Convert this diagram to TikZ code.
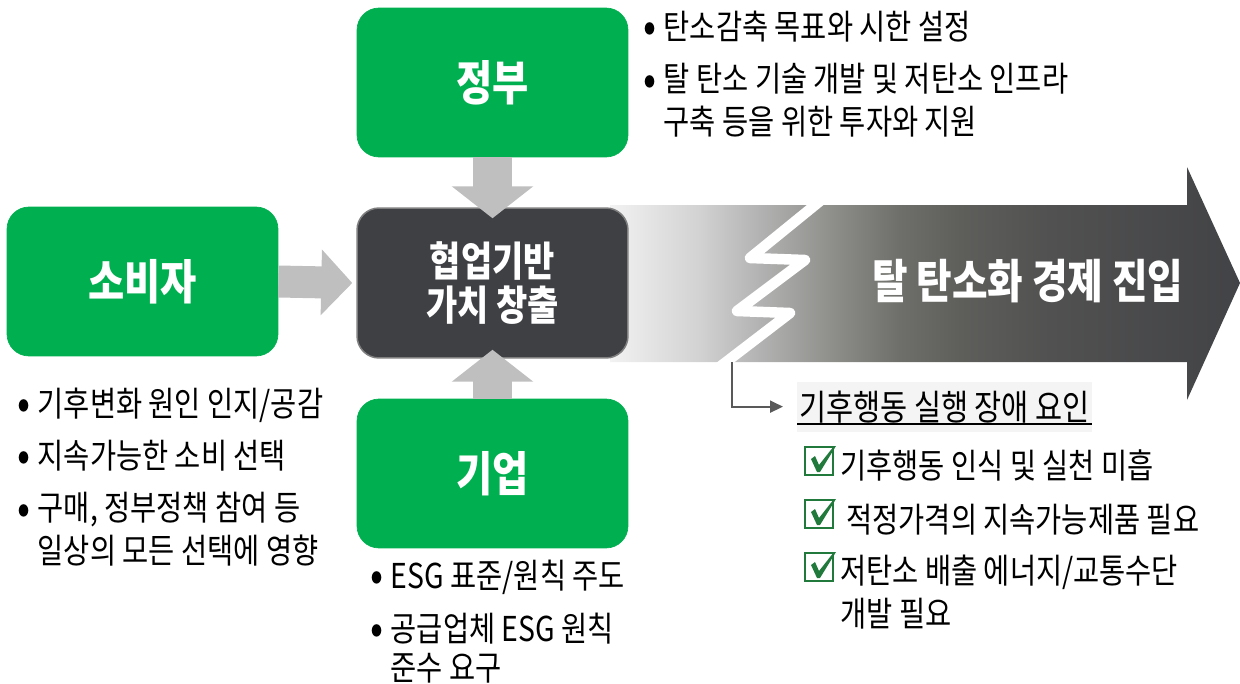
\documentclass[tikz,border=0pt]{standalone}
\usepackage{fontspec}
\setmainfont{Noto Sans CJK KR}[FakeStretch=0.83]
\usetikzlibrary{arrows.meta,calc}
\definecolor{gr}{HTML}{00B050}
\definecolor{dk}{HTML}{3F4044}
\definecolor{dkb}{HTML}{7F7F7F}
\definecolor{ar}{HTML}{BFBFBF}
\definecolor{ck}{HTML}{217A3C}
\definecolor{cn}{HTML}{595959}
\definecolor{hb}{HTML}{F4F4F4}
\definecolor{sa}{HTML}{F2F2F2}
\definecolor{sb}{HTML}{D2D2D2}
\definecolor{sc}{HTML}{B2B2B2}
\definecolor{sd}{HTML}{8A8A86}
\definecolor{se}{HTML}{6E6E6A}
\definecolor{sf}{HTML}{5E5E5B}
\definecolor{sg}{HTML}{515151}
\definecolor{sh}{HTML}{424346}
\pgfdeclarehorizontalshading{bigshade}{100bp}{color(0bp)=(sa); color(25bp)=(sa); color(32.1bp)=(sb); color(36.9bp)=(sc); color(43.3bp)=(sd); color(48bp)=(se); color(52.8bp)=(sf); color(59.9bp)=(sg); color(75bp)=(sh); color(100bp)=(sh)}
\newcommand\bul{\makebox[8.8pt][l]{\hspace{-3pt}\raisebox{-0.1em}{\scalebox{1.35}{•}}}}
\begin{document}
\begin{tikzpicture}[x=0.02cm,y=-0.02cm,
  gbox/.style={rectangle, rounded corners=0.44cm, fill=gr, draw=gr, minimum width=5.42cm, minimum height=2.98cm, text=white, font=\fontsize{27}{30}\selectfont\bfseries},
  cbox/.style={rectangle, rounded corners=0.44cm, fill=dk, draw=dkb, line width=0.03cm, minimum width=5.42cm, minimum height=3cm, text=white, align=center, font=\fontsize{23.3}{24.6}\selectfont\bfseries},
  garrow/.style={ar, line width=#1},
  txt/.style={anchor=base west, inner sep=0pt, align=left, font=\fontsize{19.5}{24}\selectfont},
  chkbox/.pic={
    \draw[ck, line width=0.04cm] (-14,-14) rectangle (14,14);
    \fill[ck] (-8,-2) -- (-4,-5) -- (0,4) -- (15,-15) -- (17,-15) -- (1,11) -- (-2,11) -- cycle;
  }]
\useasboundingbox (0,0) rectangle (1240,683);
% big gradient arrow
\shade[shading=bigshade] (610,205) -- (1187,205) -- (1187,167) -- (1240,283) -- (1187,400) -- (1187,362) -- (610,362) -- cycle;
\begin{scope}
  \clip (600,205) rectangle (1190,362);
  \draw[white, line width=0.21cm, line join=round] (825,197) -- (750,258) -- (805,260) -- (737,311) -- (790,313) -- (713,372);
\end{scope}
\node[text=white, font=\fontsize{26.5}{28}\selectfont\bfseries] (goal) at (1028,281) {탈 탄소화 경제 진입};
% boxes
\node[gbox] (gov) at (492.5,82.5) {정부};
\node[gbox] (cons) at (142.5,281.5) {소비자};
\node[gbox] (corp) at (492.5,473.5) {기업};
\node[cbox] (ctr) at (492.5,283) {협업기반\\가치 창출};
% gray arrows
\draw[garrow=0.78cm, -{Triangle[length=0.64cm, width=1.6cm]}] (gov.south) -- ($(ctr.north)+(0,11)$);
\draw[garrow=0.78cm, -{Triangle[length=0.64cm, width=1.6cm]}] (corp.north) -- ($(ctr.south)+(0,-9)$);
\draw[garrow=0.64cm, -{Triangle[length=0.62cm, width=1.28cm]}] (cons.east) -- ($(ctr.west)+(-4,0)$);
% texts
\node[txt] (g1) at (648,39) {\bul 탄소감축 목표와 시한 설정};
\node[txt] (g2) at (648,134) {\bul 탈 탄소 기술 개발 및 저탄소 인프라\\\hphantom{\bul}구축 등을 위한 투자와 지원};
\node[txt] (c1) at (22,416) {\bul 기후변화 원인 인지/공감};
\node[txt] (c2) at (22,468) {\bul 지속가능한 소비 선택};
\node[txt] (c3) at (22,563) {\bul 구매, 정부정책 참여 등\\\hphantom{\bul}일상의 모든 선택에 영향};
\node[txt] (e1) at (375,588) {\bul ESG 표준/원칙 주도};
\node[txt, font=\fontsize{19.5}{22.2}\selectfont] (e2) at (375,680) {\bul 공급업체 ESG 원칙\\\hphantom{\bul}준수 요구};
% barrier header
\node[anchor=base west, fill=hb, inner xsep=1pt, inner ysep=5pt, font=\fontsize{20.2}{24}\selectfont] (hdr) at (797,420) {기후행동 실행 장애 요인};
\draw[line width=0.03cm] ([yshift=-2.3pt]hdr.base west) -- ([yshift=-2.3pt]hdr.base east);
\coordinate (zb) at (732,362);
\draw[cn, line width=0.04cm, -{Triangle[length=0.26cm, width=0.24cm]}] (zb) |- ($(hdr.west)+(-14,0)$);
% checklist
\pic at (819,461) {chkbox};
\pic at (819,514) {chkbox};
\pic at (819,567) {chkbox};
\node[txt] (k1) at (840,478) {기후행동 인식 및 실천 미흡};
\node[txt] (k2) at (846,532) {적정가격의 지속가능제품 필요};
\node[txt] (k3) at (840,626) {저탄소 배출 에너지/교통수단\\개발 필요};
\end{tikzpicture}
\end{document}
